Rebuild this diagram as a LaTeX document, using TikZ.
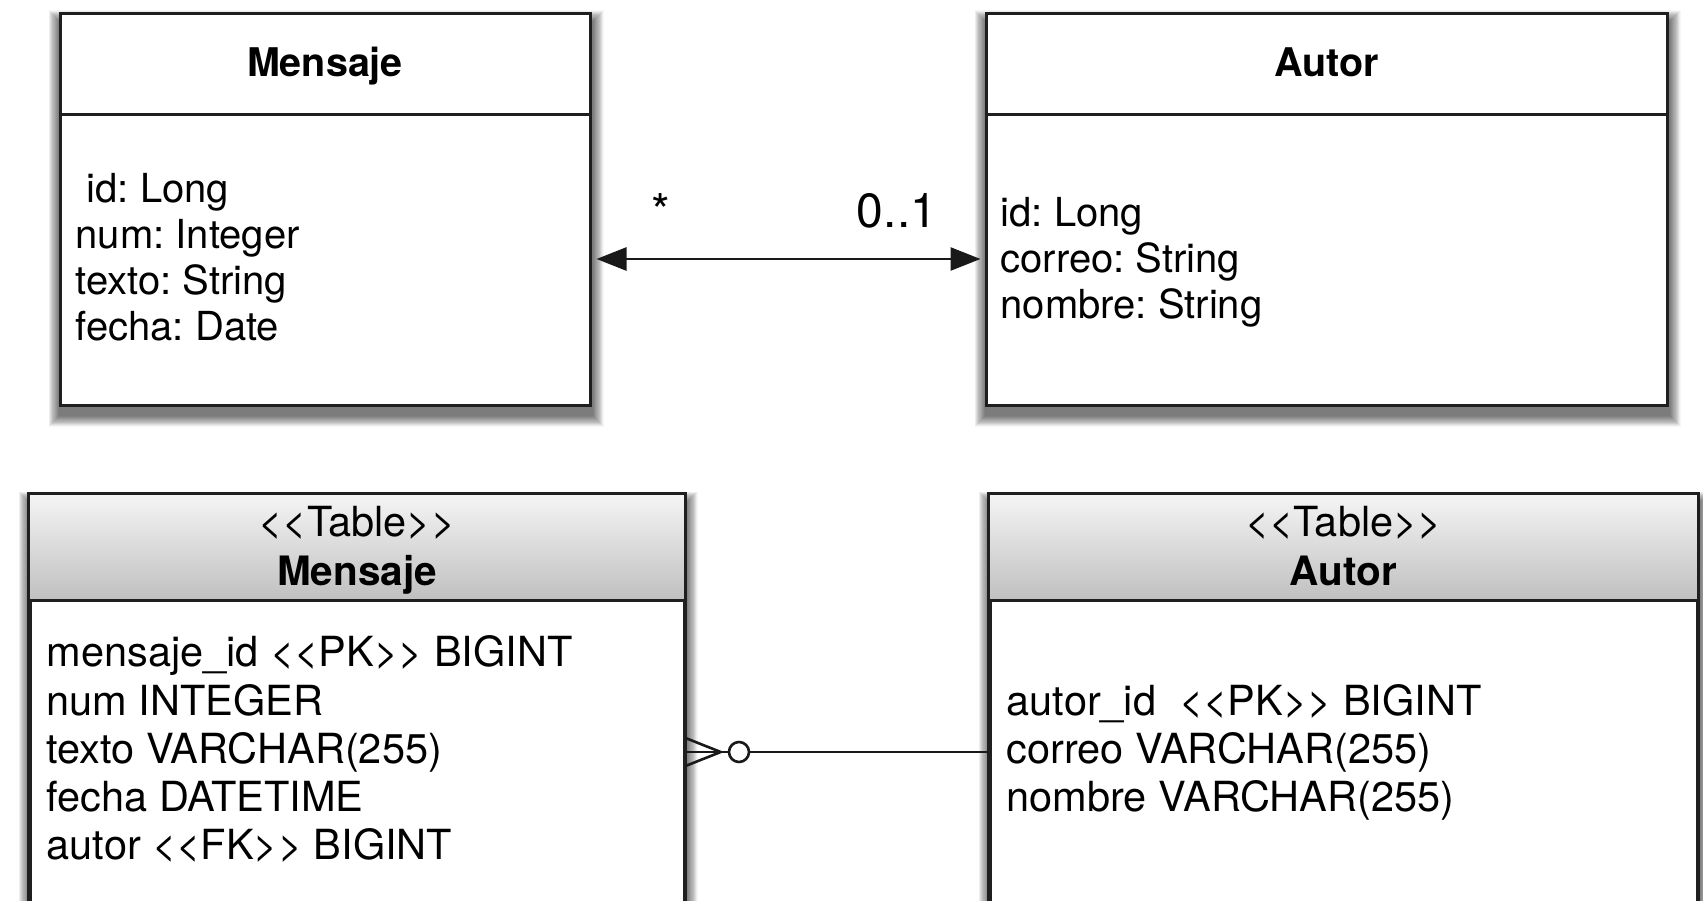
\documentclass[tikz,border=0pt]{standalone}
\usepackage{fontspec}
\setmainfont{TeX Gyre Heros}
\usetikzlibrary{arrows.meta,calc}
\frenchspacing
\pgfdeclarelayer{shadowlayer}
\pgfsetlayers{shadowlayer,main}
% stereotype guillemets written as doubled angle brackets
\newcommand{\dlt}{<{}<}
\newcommand{\dgt}{>{}>}
% soft drop shadow under a box node, built from stacked translucent rectangles
\newcommand{\boxshadow}[1]{%
  \begin{pgfonlayer}{shadowlayer}
    \foreach \k in {0,...,19} {
      \pgfmathsetmacro{\r}{11-0.55*\k}
      \fill[black, opacity=0.036]
        ($(#1.south west)+(-\r+1,9+\r)$) rectangle ($(#1.north east)+(\r+1,9-\r)$);
    }
  \end{pgfonlayer}}
\begin{document}
\begin{tikzpicture}[x=1pt,y=-1pt]
\tikzset{
  classbox/.style={draw=black!88, line width=3pt, fill=white, rectangle, inner sep=0pt},
  tablebox/.style={draw=black!88, line width=3pt, fill=white, rectangle, inner sep=0pt},
  rule/.style={draw=black!88, line width=3pt},
  head/.style={anchor=base, inner sep=0pt, font=\fontsize{39.5}{46}\selectfont\bfseries},
  attr/.style={anchor=base west, inner sep=0pt, font=\fontsize{40}{46}\selectfont},
  thead/.style={anchor=base, inner sep=0pt, font=\fontsize{41.5}{48}\selectfont},
  tattr/.style={anchor=base west, inner sep=0pt, font=\fontsize{41.5}{48}\selectfont},
  mult/.style={anchor=base, inner sep=0pt, font=\fontsize{48}{56}\selectfont},
  assoc/.style={draw=black!90, line width=2.6pt, {Triangle[length=30pt,width=23pt]}-{Triangle[length=30pt,width=23pt]}},
  link/.style={draw=black!90, line width=2.6pt},
}
\useasboundingbox (0,0) rectangle (1703,901);
\clip (0,0) rectangle (1703,901);

% ---------- class Mensaje ----------
\node[classbox, minimum width=530pt, minimum height=391pt] (mc) at (325,209.5) {};
\boxshadow{mc}
\draw[rule] ($(mc.north west)+(0,102)$) -- ($(mc.north east)+(0,102)$);
\node[head] (mct) at ($(mc.north)+(0,64)$) {Mensaje};
\node[attr] (mc1) at ($(mc.north west)+(17,190)$) {\ id: Long};
\node[attr] (mc2) at ($(mc.north west)+(17,236)$) {num: Integer};
\node[attr] (mc3) at ($(mc.north west)+(17,282)$) {texto: String};
\node[attr] (mc4) at ($(mc.north west)+(17,328)$) {fecha: Date};

% ---------- class Autor ----------
\node[classbox, minimum width=681pt, minimum height=391pt] (ac) at (1326.5,209.5) {};
\boxshadow{ac}
\draw[rule] ($(ac.north west)+(0,102)$) -- ($(ac.north east)+(0,102)$);
\node[head] (act) at ($(ac.north)+(0,64)$) {Autor};
\node[attr] (ac1) at ($(ac.north west)+(16,214)$) {id: Long};
\node[attr] (ac2) at ($(ac.north west)+(16,260)$) {correo: String};
\node[attr] (ac3) at ($(ac.north west)+(16,306)$) {nombre: String};

% ---------- association ----------
\draw[assoc] ($(mc.east)+(5,49.5)$) -- ($(ac.west)+(-4,49.5)$);
\node[mult] (ms) at (661,229) {*};
\node[mult] (mo) at (897,228) {0..1};

% ---------- table Mensaje ----------
\node[tablebox, minimum width=654pt, minimum height=440pt] (tm) at (357,715) {};
\boxshadow{tm}
\shade[top color=black!4, bottom color=black!25] (tm.north west) rectangle ($(tm.north east)+(0,107)$);
\draw[rule] (tm.north west) rectangle (tm.south east);
\draw[rule] ($(tm.north west)+(0,107)$) -- ($(tm.north east)+(0,107)$);
\node[thead] (tms) at ($(tm.north)+(0,43)$) {\dlt Table\dgt};
\node[thead, font=\fontsize{40.5}{48}\selectfont\bfseries] (tmt) at ($(tm.north)+(0,92)$) {Mensaje};
\node[tattr] (tm1) at ($(tm.north west)+(18,173)$) {mensaje\_id \dlt PK\dgt{} BIGINT};
\node[tattr] (tm2) at ($(tm.north west)+(18,222)$) {num INTEGER};
\node[tattr] (tm3) at ($(tm.north west)+(18,270)$) {texto VARCHAR(255)};
\node[tattr] (tm4) at ($(tm.north west)+(18,318)$) {fecha DATETIME};
\node[tattr] (tm5) at ($(tm.north west)+(18,366)$) {autor \dlt FK\dgt{} BIGINT};

% ---------- table Autor ----------
\node[tablebox, minimum width=707pt, minimum height=440pt] (ta) at (1343.5,715) {};
\boxshadow{ta}
\shade[top color=black!4, bottom color=black!25] (ta.north west) rectangle ($(ta.north east)+(0,107)$);
\draw[rule] (ta.north west) rectangle (ta.south east);
\draw[rule] ($(ta.north west)+(0,107)$) -- ($(ta.north east)+(0,107)$);
\node[thead] (tas) at ($(ta.north)+(0,43)$) {\dlt Table\dgt};
\node[thead, font=\fontsize{40.5}{48}\selectfont\bfseries] (tat) at ($(ta.north)+(0,92)$) {Autor};
\node[tattr] (ta1) at ($(ta.north west)+(18,222)$) {autor\_id\ \ \dlt PK\dgt{} BIGINT};
\node[tattr] (ta2) at ($(ta.north west)+(18,270)$) {correo VARCHAR(255)};
\node[tattr] (ta3) at ($(ta.north west)+(18,318)$) {nombre VARCHAR(255)};

% ---------- foreign key: many (optional) Mensaje to one Autor ----------
\node[circle, draw=black!90, line width=2.6pt, fill=white, minimum size=20pt, inner sep=0pt] (cf) at (739,752) {};
\coordinate (fk) at (tm.east |- cf);
\coordinate (cj) at ($(cf.west)+(-7,0)$);
\draw[link] (cf.east) -- (ta.west |- cf);
\draw[link] (fk) -- (cf.west);
\draw[link] ($(fk)+(0,-14)$) -- (cj) -- ($(fk)+(0,14)$);
\end{tikzpicture}
\end{document}
